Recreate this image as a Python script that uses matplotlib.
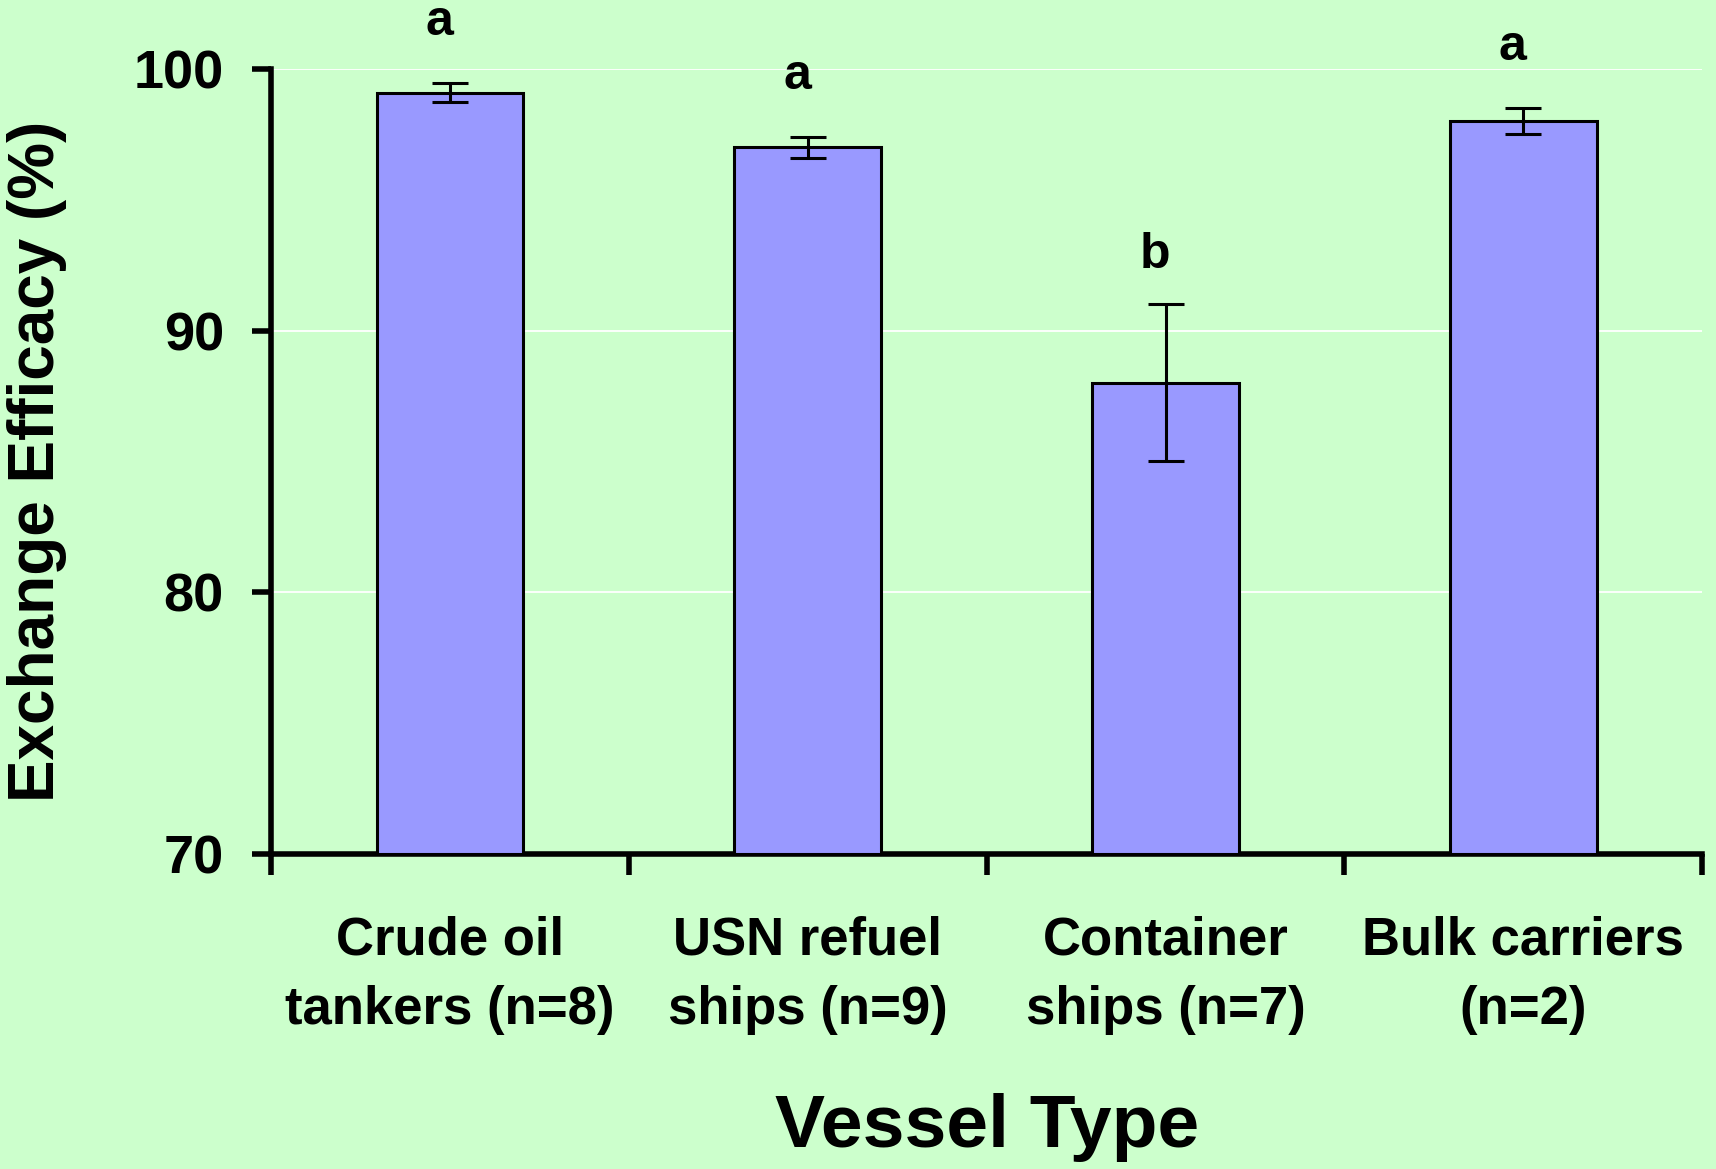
import matplotlib
matplotlib.use('Agg')
import matplotlib.pyplot as plt
import numpy as np

# data
vessel_types = ['Crude oil\ntankers (n=8)', 'USN refuel\nships (n=9)', 'Container\nships (n=7)', 'Bulk carriers\n(n=2)']
efficacy = [99.1, 97.0, 88.0, 98.0]
errors = [0.35, 0.4, 3.0, 0.5]
letters = ['a', 'a', 'b', 'a']

plt.rcParams['font.family'] = ['Liberation Sans', 'DejaVu Sans']
plt.rcParams['font.weight'] = 'bold'

bg = '#CCFFCC'
fig = plt.figure(figsize=(17.16, 11.69), dpi=100, facecolor=bg)
ax = fig.add_axes([0.158, 0.2695, 0.834, 0.6715], facecolor=bg)

x = np.arange(len(vessel_types))
ax.bar(x, [v - 70 for v in efficacy], bottom=70, width=0.41, color='#9999FF',
       edgecolor='black', linewidth=2.2, zorder=3)
ax.errorbar(x, efficacy, yerr=errors, fmt='none', ecolor='black', elinewidth=2.2,
            capsize=13, capthick=2.2, zorder=4)

# significance letters above error bars
for xi, v, e, s in zip(x, efficacy, errors, letters):
    off = 1.45 if e < 1 else 1.0
    ax.text(xi - 0.03, v + e + off, s, ha='center', va='bottom', fontsize=36,
            fontweight='bold', clip_on=False)

ax.set_xlim(-0.5, len(vessel_types) - 0.5)
ax.set_ylim(70, 100)
ax.set_yticks([70, 80, 90, 100])
ax.yaxis.grid(True, color='white', linewidth=1.3, zorder=0)
ax.set_axisbelow(True)

ax.set_xticks(np.arange(len(vessel_types) + 1) - 0.5)
ax.set_xticklabels([])
ax.set_xticks(x, minor=True)
ax.set_xticklabels(vessel_types, minor=True, fontsize=38, fontweight='bold', linespacing=1.5)
ax.tick_params(axis='x', which='minor', length=0, pad=44)
ax.tick_params(axis='x', which='major', direction='out', length=15, width=4)
ax.tick_params(axis='y', direction='out', length=14, width=4, labelsize=39, pad=20)
for lab in ax.get_yticklabels():
    lab.set_fontweight('bold')

for side in ['top', 'right']:
    ax.spines[side].set_visible(False)
for side in ['left', 'bottom']:
    ax.spines[side].set_linewidth(4)

ax.set_ylabel('Exchange Efficacy (%)', fontsize=46, fontweight='bold', labelpad=48)
ax.set_xlabel('Vessel Type', fontsize=54, fontweight='bold', labelpad=42)

fig.savefig('out.png', dpi=100, facecolor=bg)
